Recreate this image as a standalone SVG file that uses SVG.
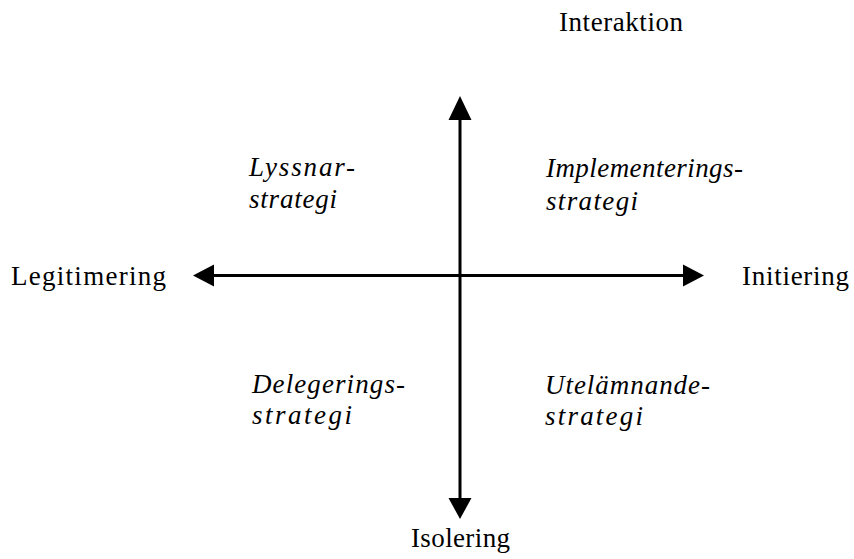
<svg xmlns="http://www.w3.org/2000/svg" width="854" height="559" viewBox="0 0 854 559">
<style>
text{font-family:'Times New Roman','Liberation Serif',Times,serif;font-size:27px;fill:#000}
.q{font-style:italic}
.ln{stroke:#000;stroke-width:3;fill:none}
</style>
<rect width="854" height="559" fill="#fff"/>
<g id="connectors">
<line class="ln" x1="460" y1="115" x2="460" y2="502"/>
<polygon points="460,96 448.5,120 471.5,120" fill="#000"/>
<polygon points="460,519 448.5,498 471.5,498" fill="#000"/>
<line class="ln" x1="210" y1="275.5" x2="688" y2="275.5"/>
<polygon points="193,275.5 214,264.5 214,286.5" fill="#000"/>
<polygon points="704,275.5 683,264.5 683,286.5" fill="#000"/>
</g>
<g id="interaktion"><text font-family="Liberation Serif, serif" x="559" y="31" textLength="124" lengthAdjust="spacing">Interaktion</text></g>
<g id="legitimering"><text font-family="Liberation Serif, serif" x="11" y="285" textLength="155" lengthAdjust="spacing">Legitimering</text></g>
<g id="initiering"><text font-family="Liberation Serif, serif" x="742" y="285" textLength="107" lengthAdjust="spacing">Initiering</text></g>
<g id="isolering"><text font-family="Liberation Serif, serif" x="411" y="547" textLength="99" lengthAdjust="spacing">Isolering</text></g>
<g id="lyssnar">
<text class="q" x="249" y="176" textLength="106" lengthAdjust="spacing">Lyssnar-</text>
<text class="q" x="249" y="208" textLength="88" lengthAdjust="spacing">strategi</text>
</g>
<g id="implementering">
<text class="q" x="546" y="177" textLength="197" lengthAdjust="spacing">Implementerings-</text>
<text class="q" x="546" y="210" textLength="92" lengthAdjust="spacing">strategi</text>
</g>
<g id="delegering">
<text class="q" x="252" y="393" textLength="153" lengthAdjust="spacing">Delegerings-</text>
<text class="q" x="252" y="424" textLength="100" lengthAdjust="spacing">strategi</text>
</g>
<g id="utelamnande">
<text class="q" x="545" y="394" textLength="165" lengthAdjust="spacing">Utelämnande-</text>
<text class="q" x="545" y="425" textLength="98" lengthAdjust="spacing">strategi</text>
</g>
</svg>
